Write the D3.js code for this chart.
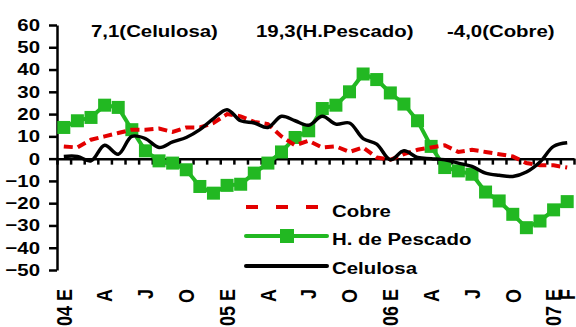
<!DOCTYPE html>
<meta charset="utf-8">
<style>
body { margin: 0; background: #fff; }
text { font-family: "Liberation Sans", Arial, sans-serif; font-weight: bold; fill: #000; }
.line { fill: none; }
</style>
<body>
<script src="https://d3js.org/d3.v7.min.js"></script>
<script>

// month labels (E = enero ... ), blank where no label
var months = ["04 E","","","A","","","J","","","O","","",
              "05 E","","","A","","","J","","","O","","",
              "06 E","","","A","","","J","","","O","","",
              "07 E","F"];

// series values, % variation
var cobre = [5.5, 5, 8.5, 10, 11.5, 13, 13, 13.5, 12, 14, 14, 16,
             20, 19, 16.5, 15.5, 10, 6, 8, 5, 5.5, 3, 5, 0.5,
             -0.5, 2, 4, 5, 6, 3, 4, 3, 2, 1, -2, -3, -3, -4];
var pescado = [14, 17, 18.5, 24, 23, 13, 3.5, -1, -2, -5, -12.5, -15.5,
               -12, -11.5, -6.5, -2, 3, 9.5, 12.5, 22.5, 24, 30, 38, 35.5,
               29.5, 24.5, 17, 5.5, -4, -5.5, -7, -15, -19, -25, -31, -28, -23, -19.3];
var celulosa = [1, 1, -1, 6, 2, 10, 9, 5, 7.5, 9.5, 13, 18,
                22, 17, 16, 14, 19, 17, 15, 19, 15.5, 16, 9, 6.5,
                -0.5, 3.5, 0.5, 0, -0.5, -2, -3.5, -6.5, -7.5, -8, -6, -1.5, 5.5, 7.1];

var titles = [{t: "7,1(Celulosa)", x: 91}, {t: "19,3(H.Pescado)", x: 256}, {t: "-4,0(Cobre)", x: 447}];
var yTicks = d3.range(-50, 61, 10);

var W = 576, H = 327;
var sx = 1.2; // text looks stretched sideways

var svg = d3.select("body").append("svg")
    .attr("width", W)
    .attr("height", H);

// scales
var x = d3.scaleLinear().domain([0, months.length]).range([57, 574]);
var xb = d3.scaleBand().domain(d3.range(months.length)).range([57, 574]);
var y = d3.scaleLinear().domain([-50, 60]).range([270, 25]);

// y axis
var gy = svg.append("g")
    .attr("transform", "translate(57,0)")
    .call(d3.axisLeft(y).tickValues(yTicks).tickSize(8).tickSizeOuter(0).tickPadding(9));
gy.select(".domain").attr("stroke", "#000").attr("stroke-width", 2.5);
gy.selectAll(".tick line").attr("stroke", "#000").attr("stroke-width", 2.5);
gy.selectAll("text")
    .style("font-size", "17px")
    .style("font-family", "Liberation Sans, Arial, sans-serif")
    .attr("x", -17 / sx * 1)
    .attr("transform", "scale(" + sx + ",1)");

// x axis line at zero, monthly ticks
var gx = svg.append("g")
    .attr("transform", "translate(0," + y(0) + ")")
    .call(d3.axisBottom(x).tickValues(d3.range(0, months.length + 1)).tickSize(6).tickSizeOuter(0).tickFormat(""));
gx.select(".domain").attr("stroke", "#000").attr("stroke-width", 2.5);
gx.selectAll(".tick line").attr("stroke", "#000").attr("stroke-width", 2.5);

// month labels, rotated
var gl = svg.append("g")
    .attr("transform", "translate(0,289)")
    .call(d3.axisBottom(xb).tickSize(0).tickFormat(function(i) { return months[i]; }));
gl.select(".domain").remove();
gl.selectAll("text")
    .attr("x", 0).attr("y", 0).attr("dy", "0.36em")
    .style("text-anchor", "end")
    .style("font-size", "18px")
    .style("font-family", "Liberation Sans, Arial, sans-serif")
    .attr("transform", "rotate(-90) scale(1," + sx + ")");

var cx = function(d, i) { return xb(i) + xb.bandwidth() / 2; };

// H. de Pescado
svg.append("path")
    .datum(pescado)
    .attr("class", "line")
    .attr("stroke", "#22b822")
    .attr("stroke-width", 4)
    .attr("d", d3.line().x(cx).y(function(d) { return y(d); }));
svg.selectAll(".sq")
    .data(pescado)
  .enter().append("rect")
    .attr("class", "sq")
    .attr("x", function(d, i) { return cx(d, i) - 6.5; })
    .attr("y", function(d) { return y(d) - 6.5; })
    .attr("width", 13).attr("height", 13)
    .attr("fill", "#22b822");

// Cobre
svg.append("path")
    .datum(cobre)
    .attr("class", "line")
    .attr("stroke", "#e30000")
    .attr("stroke-width", 4)
    .attr("stroke-dasharray", "9,5")
    .attr("d", d3.line().x(cx).y(function(d) { return y(d); }));

// Celulosa
svg.append("path")
    .datum(celulosa)
    .attr("class", "line")
    .attr("stroke", "#000")
    .attr("stroke-width", 3.5)
    .attr("d", d3.line().curve(d3.curveCatmullRom).x(cx).y(function(d) { return y(d); }));

// titles
titles.forEach(function(d) {
  svg.append("text")
      .attr("transform", "translate(" + d.x + ",37) scale(" + sx + ",1)")
      .style("font-size", "17px")
      .text(d.t);
});

// legend
var leg = [
  {name: "Cobre", color: "#e30000", dash: "12,18", w: 4, mark: false, ly: 207, ty: 216.5},
  {name: "H. de Pescado", color: "#22b822", dash: null, w: 4, mark: true, ly: 236, ty: 245},
  {name: "Celulosa", color: "#000", dash: null, w: 4, mark: false, ly: 266, ty: 273.5}
];
leg.forEach(function(d) {
  svg.append("line")
      .attr("x1", 246).attr("x2", 327)
      .attr("y1", d.ly).attr("y2", d.ly)
      .attr("stroke", d.color)
      .attr("stroke-width", d.w)
      .attr("stroke-linecap", d.dash ? "butt" : "round")
      .attr("stroke-dasharray", d.dash);
  if (d.mark) {
    svg.append("rect")
        .attr("x", 280).attr("y", d.ly - 7)
        .attr("width", 14).attr("height", 14)
        .attr("fill", d.color);
  }
  svg.append("text")
      .attr("transform", "translate(332," + d.ty + ") scale(" + sx + ",1)")
      .style("font-size", "17px")
      .text(d.name);
});

</script>
</body>
